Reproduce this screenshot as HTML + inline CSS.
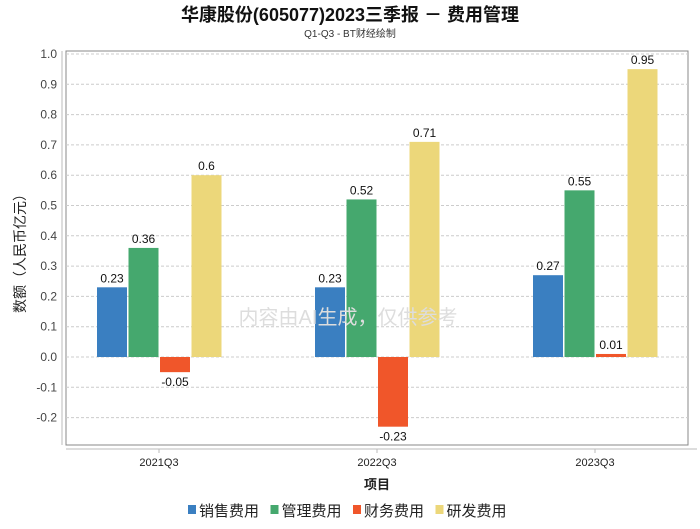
<!DOCTYPE html>
<html><head><meta charset="utf-8"><style>
body{margin:0;background:#fff;font-family:"Liberation Sans","Noto Sans CJK SC",sans-serif}
</style></head><body>
<svg width="700" height="524" xmlns="http://www.w3.org/2000/svg" font-family="Liberation Sans, Noto Sans CJK SC, sans-serif">
<text x="350" y="21" text-anchor="middle" font-size="18" font-weight="bold" fill="#111">华康股份(605077)2023三季报 － 费用管理</text>
<text x="350" y="37" text-anchor="middle" font-size="10" fill="#333">Q1-Q3 - BT财经绘制</text>
<rect x="66" y="51" width="622" height="394" fill="none" stroke="#888" stroke-width="1"/>
<line x1="62" y1="51" x2="62" y2="445" stroke="#bbb"/>
<line x1="66" y1="449" x2="697" y2="449" stroke="#bbb"/>
<g id="grid"></g><g id="bars"></g><g id="xl"></g>
<text x="348" y="324" text-anchor="middle" font-size="20" fill="#ddd">内容由AI生成，仅供参考</text>
<text transform="translate(25,250) rotate(-90)" text-anchor="middle" font-size="14" fill="#222">数额（人民币亿元）</text>
<text x="377" y="489" text-anchor="middle" font-size="13" fill="#222" font-weight="bold">项目</text>
<g id="legend"></g>
</svg>
<script>
const categories=["2021Q3","2022Q3","2023Q3"];
const seriesNames=["销售费用","管理费用","财务费用","研发费用"];
const colors=["#3a7fc1","#45a86e","#f0562a","#ecd77a"];
const sales=[0.23,0.23,0.27];
const admin=[0.36,0.52,0.55];
const finance=[-0.05,-0.23,0.01];
const rnd=[0.6,0.71,0.95];
const yTicks=[-0.2,-0.1,0.0,0.1,0.2,0.3,0.4,0.5,0.6,0.7,0.8,0.9,1.0];
const series=[sales,admin,finance,rnd];
const NS="http://www.w3.org/2000/svg";
const y=v=>357-v*303;
const xc=i=>159+218*i;
function mk(t,a,p,txt){const e=document.createElementNS(NS,t);for(const k in a)e.setAttribute(k,a[k]);if(txt!==undefined)e.textContent=txt;document.getElementById(p).appendChild(e);return e;}
yTicks.forEach(v=>{
 const g=mk('line',{x1:66,x2:688,y1:y(v),y2:y(v),stroke:'#ccc','stroke-dasharray':'3,2'},'grid');
 
 
 const t=mk('text',{x:57,y:y(v)+4,'text-anchor':'end','font-size':12,fill:'#444'},'grid',v.toFixed(1));
 
 
});
categories.forEach((c,i)=>{
 const t=mk('text',{x:xc(i),y:466,'text-anchor':'middle','font-size':11,fill:'#222'},'xl',c);
 
 
 const tk=mk('line',{x1:xc(i),x2:xc(i),y1:449,y2:453,stroke:'#bbb'},'xl');
 
 
 series.forEach((s,j)=>{
  const v=s[i];const x0=xc(i)-62+j*31.5;
  const top=Math.min(y(v),y(0)),h=Math.abs(y(v)-y(0));
  const r=mk('rect',{x:x0,y:top,width:30,height:h,fill:colors[j]},'bars');
  
  
  const ly=v>=0?y(v)-5:y(v)+14;
  const l=mk('text',{x:x0+15,y:ly,'text-anchor':'middle','font-size':12,fill:'#111'},'bars',String(v));
  
  
 });
});
let lx=188;
seriesNames.forEach((n,j)=>{
 const r=mk('rect',{x:lx,y:505,width:8,height:9,fill:colors[j]},'legend');
 
 
 const t=mk('text',{x:lx+11,y:516,'font-size':15,fill:'#222'},'legend',n);
 
 
 lx+=82.5;
});
</script>
</body></html>
